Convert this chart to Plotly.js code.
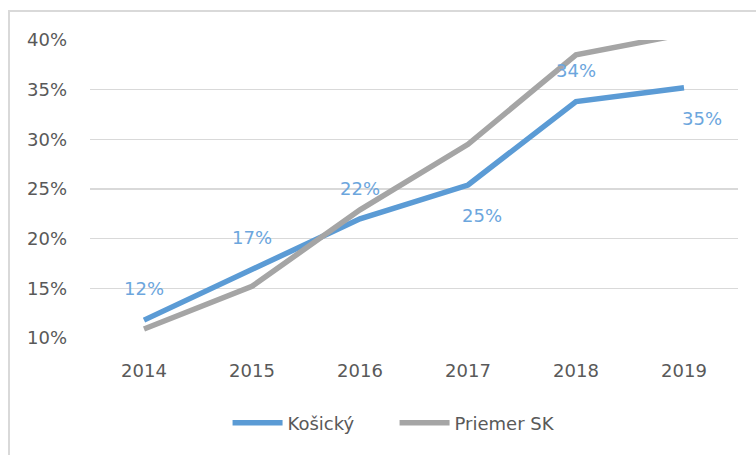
<!DOCTYPE html>
<html>
<head>
<meta charset="utf-8">
<script src="https://cdn.plot.ly/plotly-3.0.1.min.js"></script>
<style>
  html, body { margin: 0; padding: 0; background: #ffffff; }
  #frame { position: absolute; left: 8px; top: 10px; width: 800px; height: 500px;
           border-left: 2px solid #D9D9D9; border-top: 2px solid #D9D9D9; }
  #chart { position: absolute; left: 0; top: 0; width: 756px; height: 455px; }
</style>
</head>
<body>
<div id="frame"></div>
<div id="chart"></div>
<script>
const years = ['2014', '2015', '2016', '2017', '2018', '2019'];
const kosicky = [11.8, 16.9, 22.0, 25.4, 33.8, 35.2];
const priemerSK = [10.9, 15.2, 22.9, 29.5, 38.5, 40.6];
const yTicks = [10, 15, 20, 25, 30, 35, 40];
const yTickText = ['10%', '15%', '20%', '25%', '30%', '35%', '40%'];

const FONT = 'DejaVu Sans, sans-serif';
const BLUE = '#5B9BD5';
const GRAY = '#A5A5A5';
const LABEL_BLUE = '#6CA6DD';

// label placement offsets (px) for the Košický data labels
const labelYShift = [32, 32, 30, -30, 31, -31];
const labelXShift = [0, 0, 0, 14, 0, 18];

const traces = [
  { x: years, y: kosicky, type: 'scatter', mode: 'lines', name: 'Košický',
    line: { color: BLUE, width: 5.5 } },
  { x: years, y: priemerSK, type: 'scatter', mode: 'lines', name: 'Priemer SK',
    line: { color: GRAY, width: 5.5 } }
];

const annotations = years.map((yr, i) => ({
  x: i, y: kosicky[i], xref: 'x', yref: 'y',
  text: Math.round(kosicky[i]) + '%', showarrow: false,
  yshift: labelYShift[i], xshift: labelXShift[i],
  font: { family: FONT, size: 18, color: LABEL_BLUE }
}));

const layout = {
  width: 756, height: 455,
  margin: { l: 90, r: 18, t: 40, b: 117 },
  paper_bgcolor: 'rgba(0,0,0,0)',
  plot_bgcolor: 'rgba(0,0,0,0)',
  showlegend: true,
  legend: {
    orientation: 'h', x: 0.47, xanchor: 'center', y: -0.285, yanchor: 'middle',
    font: { family: FONT, size: 18, color: '#595959' },
    itemwidth: 50, entrywidth: 102
  },
  xaxis: {
    type: 'category', range: [-0.5, 5.5],
    showgrid: false, zeroline: false, showline: false,
    ticks: '', ticklabelstandoff: 20,
    tickfont: { family: FONT, size: 18, color: '#595959' }
  },
  yaxis: {
    range: [10, 40], tickmode: 'array', tickvals: yTicks, ticktext: yTickText,
    showgrid: true, gridcolor: '#D9D9D9', gridwidth: 1.5,
    zeroline: false, showline: false, ticks: '', ticklabelstandoff: 22,
    tickfont: { family: FONT, size: 18, color: '#595959' }
  },
  annotations: annotations
};

Plotly.newPlot('chart', traces, layout, { displayModeBar: false, staticPlot: true });
</script>
</body>
</html>
